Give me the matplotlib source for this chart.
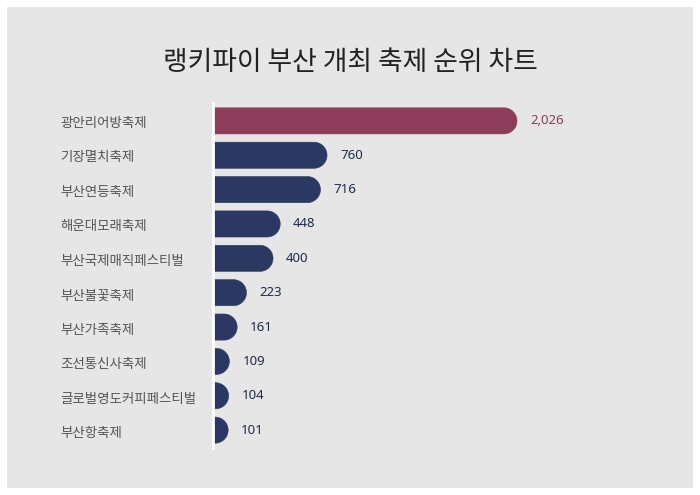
import matplotlib
matplotlib.use("Agg")
import numpy as np
import matplotlib.pyplot as plt
from matplotlib.patches import Rectangle, Polygon

plt.rcParams['font.family'] = ['Noto Sans CJK KR', 'DejaVu Sans']

title = "랭키파이 부산 개최 축제 순위 차트"
categories = ["광안리어방축제", "기장멸치축제", "부산연등축제", "해운대모래축제", "부산국제매직페스티벌",
              "부산불꽃축제", "부산가족축제", "조선통신사축제", "글로벌영도커피페스티벌", "부산항축제"]
values = [2026, 760, 716, 448, 400, 223, 161, 109, 104, 101]
value_labels = ["2,026", "760", "716", "448", "400", "223", "161", "109", "104", "101"]

W, H = 700, 495
fig = plt.figure(figsize=(W / 100, H / 100), dpi=100)
fig.patch.set_facecolor("white")
fig.add_artist(Rectangle((7 / W, 7 / H), 686 / W, 481 / H, transform=fig.transFigure,
                         facecolor="#e6e6e6", edgecolor="none", zorder=0))

ax_l, ax_r, ax_t, ax_b = 213, 653, 103, 448
ax = fig.add_axes([ax_l / W, 1 - ax_b / H, (ax_r - ax_l) / W, (ax_b - ax_t) / H])
ax.set_facecolor("none")

px_per_unit = 304 / 2026
xmax = (ax_r - ax_l) / px_per_unit
ax.set_xlim(0, xmax)
n = len(categories)
ax.set_ylim(n - 0.48, -0.52)
ypx = (ax_b - ax_t) / n  # pixels per category unit

bar_h = 0.76
bars = ax.barh(range(n), values, height=bar_h)
colors = ["#8b3d5a"] + ["#2b3962"] * (n - 1)
r_px = bar_h * ypx / 2
r_x = r_px / px_per_unit
t = np.linspace(-np.pi / 2, np.pi / 2, 60)
for b, c in zip(bars, colors):
    b.set_visible(False)
    x0 = b.get_x()
    y0 = b.get_y()
    w = b.get_width()
    h = b.get_height()
    cx = x0 + w - r_x
    cy = y0 + h / 2
    left = min(x0, cx)
    arc = np.column_stack([cx + r_x * np.cos(t), cy + (h / 2) * np.sin(t)])
    pts = np.vstack([[left, y0], arc, [left, y0 + h]])
    p = Polygon(pts, closed=True, facecolor=c, edgecolor=c, linewidth=0.4, clip_on=True)
    ax.add_patch(p)

for i, (v, lab) in enumerate(zip(values, value_labels)):
    col = "#8b3d5a" if i == 0 else "#1f2a50"
    ax.text(v + 13 / px_per_unit, i, lab, va="center", ha="left",
            fontsize=9.5, color=col, family=["Noto Sans", "DejaVu Sans"])

for i, cat in enumerate(categories):
    fig.text(60 / W, 1 - (ax_t + (i + 0.52) * ypx + 2) / H, cat, ha="left", va="center",
             fontsize=9.7, color="#555555")

ax.set_xticks([])
ax.set_yticks([])
for s in ["top", "right", "bottom"]:
    ax.spines[s].set_visible(False)
ax.spines["left"].set_color("white")
ax.spines["left"].set_linewidth(2)

fig.text(0.5, 1 - 63 / H, title, ha="center", va="center", fontsize=19.3, color="#222222")

fig.savefig("out.png", dpi=100)
